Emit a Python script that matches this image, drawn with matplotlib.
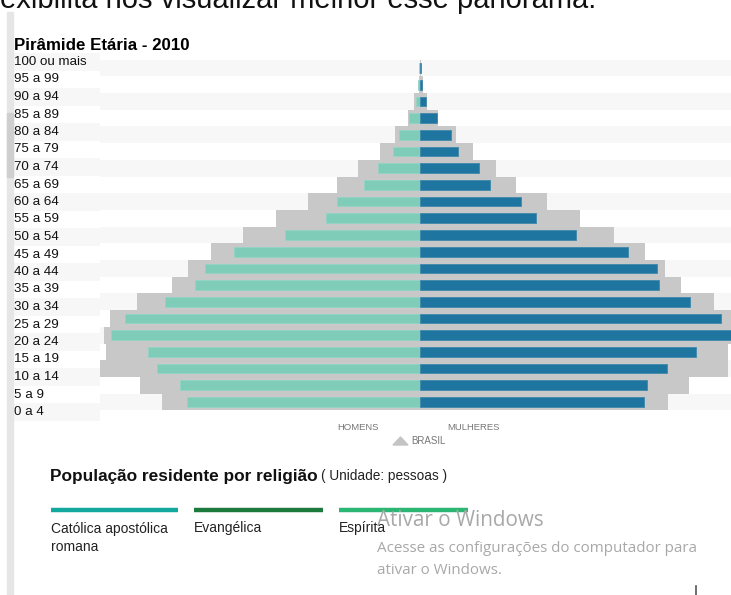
import matplotlib
matplotlib.use("Agg")
import matplotlib.pyplot as plt
from matplotlib.patches import Rectangle, Polygon
from matplotlib.lines import Line2D

plt.rcParams['font.family'] = ['Liberation Sans', 'DejaVu Sans']

# ---------------- data (millions of people) ----------------
age_groups = ["100 ou mais", "95 a 99", "90 a 94", "85 a 89", "80 a 84", "75 a 79",
              "70 a 74", "65 a 69", "60 a 64", "55 a 59", "50 a 54", "45 a 49",
              "40 a 44", "35 a 39", "30 a 34", "25 a 29", "20 a 24", "15 a 19",
              "10 a 14", "5 a 9", "0 a 4"]

# Brasil (grey background bars)
brasil_homens = [0.008, 0.04, 0.17, 0.32, 0.68, 1.09, 1.68, 2.25, 3.04, 3.92, 4.83,
                 5.69, 6.32, 6.77, 7.72, 8.46, 8.62, 8.56, 8.71, 7.62, 7.02]
brasil_mulheres = [0.015, 0.07, 0.18, 0.48, 0.98, 1.45, 2.06, 2.60, 3.45, 4.35, 5.28,
                   6.12, 6.66, 7.10, 8.00, 8.60, 8.70, 8.40, 8.40, 7.33, 6.75]

# Selected series (coloured bars)
sel_homens = [0.02, 0.045, 0.12, 0.29, 0.57, 0.73, 1.16, 1.52, 2.25, 2.56, 3.69,
              5.08, 5.87, 6.12, 6.95, 8.05, 8.43, 7.40, 7.18, 6.53, 6.36]
sel_mulheres = [0.015, 0.055, 0.16, 0.45, 0.84, 1.03, 1.60, 1.91, 2.76, 3.16, 4.24,
                5.66, 6.45, 6.51, 7.36, 8.20, 8.60, 7.52, 6.73, 6.17, 6.10]

religioes = ["Católica apostólica\nromana", "Evangélica", "Espírita"]
religiao_cores = ["#12a89d", "#1c7a3d", "#2bb673"]

# ---------------- figure ----------------
W, H = 731, 595
fig = plt.figure(figsize=(W / 100, H / 100), dpi=100)
fig.patch.set_facecolor("white")


def fx(x):
    return x / W


def fy(y):
    return 1 - y / H


def ftext(x, y, s, **kw):
    kw.setdefault("va", "center")
    kw.setdefault("ha", "left")
    return fig.text(fx(x), fy(y), s, **kw)


# left grey band (page scrollbar-like)
fig.patches.append(Rectangle((fx(7), fy(595)), 6 / W, (595 - 12) / H,
                             transform=fig.transFigure, color="#e6e6e6", zorder=0))
fig.patches.append(Rectangle((fx(7), fy(177)), 6 / W, 64 / H,
                             transform=fig.transFigure, color="#cfcfcf", zorder=0))

# cropped text at the very top
ftext(0, 8, "exibilita nos visualizar melhor esse panorama.", fontsize=21,
      va="baseline", color="#111111")

# title
ftext(14, 45, "Pirâmide Etária - 2010", fontsize=12.2, fontweight="bold", color="#000000")

n = len(age_groups)
ys = list(range(n))

# ---------------- label column ----------------
lax = fig.add_axes([fx(13), fy(420.75), 87 / W, (420.75 - 53.25) / H])
lax.set_xlim(0, 1)
lax.set_ylim(n - 0.5, -0.5)
for i in ys:
    if i % 2 == 0:
        lax.axhspan(i - 0.5, i + 0.5, color="#f7f7f7", lw=0, zorder=0)
    lax.text(0.012, i, age_groups[i], fontsize=9.6, va="center", ha="left", color="#111111")
lax.axis("off")

# ---------------- pyramid ----------------
ax = fig.add_axes([fx(100), fy(410.35), 631 / W, (410.35 - 59.65) / H])
ax.set_xlim(-8.72, 8.47)
ax.set_ylim(n - 0.5, -0.5)
for i in ys:
    if i % 2 == 0:
        ax.axhspan(i - 0.5, i + 0.5, color="#f7f7f7", lw=0, zorder=0)

ax.barh(ys, [-v for v in brasil_homens], height=1.0, color="#c8c8c8", lw=0, zorder=1)
ax.barh(ys, brasil_mulheres, height=1.0, color="#c8c8c8", lw=0, zorder=1)
ax.barh(ys, [-v for v in sel_homens], height=0.58, color="#7fccb9",
        edgecolor="#92d4c4", lw=0.6, zorder=2)
ax.barh(ys, sel_mulheres, height=0.58, color="#1e75a0",
        edgecolor="#3f88ad", lw=0.6, zorder=2)
ax.axis("off")

# axis captions under the pyramid
ftext(337, 427, "HOMENS", fontsize=6.8, color="#777777")
ftext(447, 427, "MULHERES", fontsize=6.8, color="#777777")
fig.patches.append(Polygon([(fx(393), fy(445)), (fx(408), fy(445)), (fx(400.5), fy(437))],
                           closed=True, transform=fig.transFigure, color="#c4c4c4"))
ftext(411, 441, "BRASIL", fontsize=7, color="#777777")

# ---------------- religion section ----------------
ftext(50, 476, "População residente por religião", fontsize=12.4, fontweight="bold",
      color="#111111")
ftext(321, 476, "( Unidade: pessoas )", fontsize=9.8, color="#222222")

legend_x = [(50.7, 178.3), (194, 323), (339, 468)]
for (x0, x1), cor, nome in zip(legend_x, religiao_cores, religioes):
    fig.lines.append(Line2D([fx(x0), fx(x1)], [fy(510), fy(510)],
                            transform=fig.transFigure, color=cor, lw=3.2,
                            solid_capstyle="butt"))
    ftext(x0, 528 if "\n" not in nome else 538, nome, fontsize=10, color="#222222",
          linespacing=1.4)

# Windows activation watermark
ftext(377, 521, "Ativar o Windows", fontsize=14.9, color="#a8a8a8",
      family=["Open Sans", "DejaVu Sans"])
ftext(377, 549, "Acesse as configurações do computador para", fontsize=10.9,
      color="#a8a8a8", family=["Open Sans", "DejaVu Sans"])
ftext(377, 571, "ativar o Windows.", fontsize=10.9, color="#a8a8a8",
      family=["Open Sans", "DejaVu Sans"])

# tiny mark bottom-right
fig.lines.append(Line2D([fx(696), fx(696)], [fy(586), fy(595)],
                        transform=fig.transFigure, color="#555555", lw=1.2))

fig.savefig("out.png", dpi=100, facecolor="white")
